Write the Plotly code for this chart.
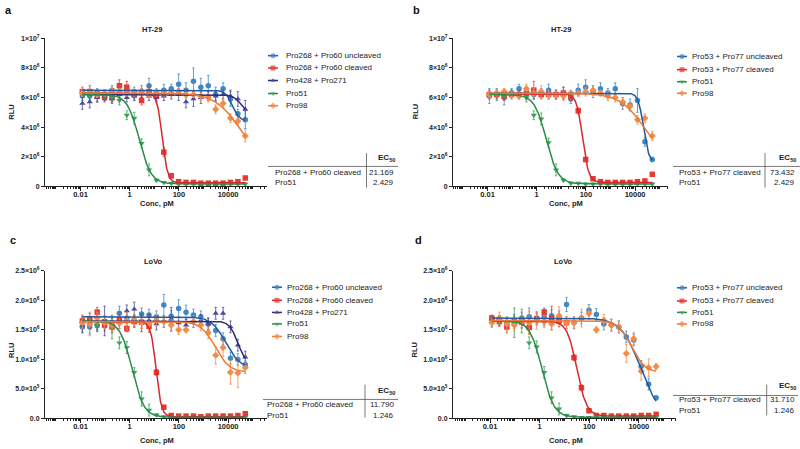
import numpy as np
import plotly.graph_objects as go

W, H = 800, 449
FONT = "Liberation Sans, Arial, Helvetica, sans-serif"

# ---------------- data ----------------
conc = [0.0119, 0.0238, 0.0477, 0.0954, 0.191, 0.381, 0.763, 1.53, 3.05, 6.10, 12.2, 24.4,
        48.8, 97.7, 195, 391, 781, 1563, 3125, 6250, 12500, 25000, 50000]

# Panel a  (HT-29, RLU x 1e6)
a_unc = [6.1, 6.1, 6.3, 6.2, 6.5, 6.3, 6.4, 6.4, 6.4, 6.8, 6.3, 6.5, 6.6, 6.9, 6.5, 7.1, 6.7, 6.8, 6.2, 6.6, 5.9, 4.9, 4.5]
a_unc_err = [0.3, 0.3, 0.3, 0.3, 0.3, 0.3, 0.3, 0.3, 0.4, 0.5, 0.3, 0.4, 0.3, 0.7, 0.5, 0.9, 0.6, 0.7, 0.5, 0.4, 0.5, 0.3, 0.6]
a_clv = [6.4, 6.4, 6.1, 6.0, 6.0, 6.8, 6.7, 6.2, 5.8, 6.4, 6.1, 2.3, 0.7, 0.3, 0.25, 0.25, 0.2, 0.2, 0.2, 0.2, 0.25, 0.3, 0.55]
a_clv_err = [0.3, 0.4, 0.4, 0.3, 0.3, 0.4, 0.4, 0.3, 0.3, 0.4, 0.3, 0.3, 0.15, 0.1, 0.05, 0.05, 0.05, 0.05, 0.05, 0.05, 0.05, 0.05, 0.1]
a_pur = [5.6, 5.7, 6.0, 6.1, 5.9, 6.2, 6.0, 6.1, 6.3, 6.1, 6.0, 6.1, 6.2, 6.2, 5.7, 5.9, 6.0, 6.1, 6.1, 6.2, 6.1, 5.9, 5.2]
a_pur_err = [0.4, 0.4, 0.3, 0.3, 0.3, 0.3, 0.3, 0.3, 0.3, 0.3, 0.3, 0.3, 0.3, 0.4, 0.4, 0.5, 0.4, 0.3, 0.3, 0.3, 0.4, 0.5, 0.6]
a_p51 = [6.2, 6.1, 6.3, 6.1, 6.0, 5.8, 4.8, 4.6, 2.9, 1.1, 0.4, 0.25, 0.2, 0.15, 0.15, 0.15, 0.15, 0.15, 0.15, 0.15, 0.15, 0.15, 0.15]
a_p51_err = [0.2, 0.2, 0.2, 0.2, 0.3, 0.3, 0.3, 0.4, 0.3, 0.4, 0.1, 0.05, 0.05, 0.05, 0.05, 0.05, 0.05, 0.05, 0.05, 0.05, 0.05, 0.05, 0.05]
a_p98 = [6.3, 6.4, 6.2, 6.3, 6.4, 6.4, 6.3, 6.3, 6.4, 6.2, 6.3, 6.3, 6.3, 6.4, 6.2, 6.2, 6.1, 6.0, 5.2, 5.6, 4.6, 4.4, 3.4]
a_p98_err = [0.2, 0.2, 0.2, 0.2, 0.2, 0.2, 0.2, 0.2, 0.2, 0.2, 0.2, 0.2, 0.2, 0.2, 0.2, 0.2, 0.3, 0.3, 0.3, 0.3, 0.3, 0.3, 0.4]
a_unc_fit = [6.5, 4.4, 15000, 3.0]
a_clv_fit = [6.3, 0.22, 21.169, 4.0]
a_pur_fit = [6.2, 4.8, 35000, 2.5]
a_p51_fit = [6.2, 0.15, 2.429, 1.8]
a_p98_fit = [6.3, 1.5, 30000, 0.85]

# Panel b  (HT-29, RLU x 1e6)
b_unc = [6.1, 6.2, 6.0, 6.3, 6.6, 6.2, 6.2, 6.3, 6.5, 6.2, 6.3, 5.9, 6.5, 6.7, 6.4, 6.6, 6.3, 6.6, 5.6, 5.5, 5.8, 3.0, 1.8]
b_unc_err = [0.5, 0.4, 0.5, 0.3, 0.3, 0.3, 0.3, 0.3, 0.4, 0.3, 0.4, 0.3, 0.4, 0.5, 0.4, 0.4, 0.3, 0.4, 0.4, 0.4, 0.8, 0.3, 0.15]
b_clv = [6.2, 6.2, 6.1, 6.2, 6.2, 6.3, 6.5, 6.2, 6.2, 6.2, 6.3, 6.1, 5.1, 1.8, 0.5, 0.3, 0.25, 0.25, 0.25, 0.25, 0.3, 0.35, 0.8]
b_clv_err = [0.3, 0.3, 0.3, 0.3, 0.3, 0.4, 0.6, 0.3, 0.3, 0.3, 0.4, 0.3, 0.2, 0.15, 0.1, 0.05, 0.05, 0.05, 0.05, 0.05, 0.05, 0.05, 0.1]
b_p51 = [6.2, 6.2, 6.1, 6.3, 6.2, 6.0, 4.8, 4.55, 2.95, 1.1, 0.4, 0.2, 0.2, 0.15, 0.15, 0.15, 0.15, 0.15, 0.15, 0.15, 0.15, 0.15, 0.15]
b_p51_err = [0.2, 0.2, 0.2, 0.2, 0.2, 0.3, 0.3, 0.4, 0.3, 0.4, 0.1, 0.05, 0.05, 0.05, 0.05, 0.05, 0.05, 0.05, 0.05, 0.05, 0.05, 0.05, 0.05]
b_p98 = [6.2, 6.3, 6.4, 6.2, 6.1, 6.6, 6.3, 6.4, 6.2, 6.2, 6.1, 6.3, 6.3, 6.4, 6.5, 6.3, 6.1, 6.0, 5.7, 5.4, 4.5, 4.6, 3.4]
b_p98_err = [0.2, 0.2, 0.2, 0.2, 0.2, 0.3, 0.3, 0.4, 0.3, 0.2, 0.3, 0.2, 0.2, 0.3, 0.3, 0.2, 0.3, 0.3, 0.3, 0.3, 0.3, 0.3, 0.3]
b_unc_fit = [6.3, 1.6, 22000, 4.0]
b_clv_fit = [6.25, 0.25, 73.432, 3.5]
b_p51_fit = [6.2, 0.15, 2.429, 1.8]
b_p98_fit = [6.3, 1.5, 25000, 0.85]

# Panel c  (LoVo, RLU x 1e6)
c_unc = [1.55, 1.55, 1.57, 1.62, 1.62, 1.78, 1.70, 1.66, 1.77, 1.75, 1.72, 1.92, 1.73, 1.86, 1.80, 1.75, 1.72, 1.60, 1.49, 1.35, 1.02, 1.00, 0.91]
c_unc_err = [0.1, 0.12, 0.1, 0.1, 0.1, 0.12, 0.1, 0.1, 0.1, 0.1, 0.1, 0.18, 0.1, 0.15, 0.12, 0.1, 0.1, 0.1, 0.1, 0.1, 0.1, 0.1, 0.06]
c_clv = [1.65, 1.68, 1.80, 1.58, 1.55, 1.67, 1.52, 1.64, 1.63, 1.56, 0.78, 0.19, 0.05, 0.04, 0.04, 0.04, 0.03, 0.04, 0.04, 0.04, 0.04, 0.05, 0.08]
c_clv_err = [0.1, 0.1, 0.08, 0.1, 0.1, 0.1, 0.05, 0.1, 0.1, 0.1, 0.05, 0.03, 0.02, 0.01, 0.01, 0.01, 0.01, 0.01, 0.01, 0.01, 0.01, 0.01, 0.02]
c_pur = [1.58, 1.62, 1.60, 1.65, 1.60, 1.62, 1.82, 1.85, 1.62, 1.66, 1.60, 1.64, 1.68, 1.62, 1.58, 1.64, 1.66, 1.60, 1.78, 1.78, 1.55, 1.24, 1.04]
c_pur_err = [0.12, 0.1, 0.1, 0.25, 0.1, 0.1, 0.1, 0.12, 0.15, 0.1, 0.1, 0.1, 0.2, 0.1, 0.1, 0.1, 0.1, 0.1, 0.1, 0.1, 0.1, 0.1, 0.1]
c_p51 = [1.62, 1.64, 1.58, 1.66, 1.55, 1.28, 1.20, 0.78, 0.33, 0.14, 0.06, 0.03, 0.02, 0.02, 0.02, 0.02, 0.02, 0.02, 0.02, 0.02, 0.02, 0.02, 0.02]
c_p51_err = [0.08, 0.08, 0.1, 0.08, 0.2, 0.1, 0.1, 0.08, 0.12, 0.1, 0.02, 0.01, 0.01, 0.01, 0.01, 0.01, 0.01, 0.01, 0.01, 0.01, 0.01, 0.01, 0.01]
c_p98 = [1.62, 1.60, 1.70, 1.62, 1.58, 1.62, 1.65, 1.66, 1.62, 1.60, 1.66, 1.64, 1.58, 1.50, 1.50, 1.64, 1.58, 1.45, 1.07, 1.20, 0.78, 0.77, 0.86]
c_p98_err = [0.1, 0.2, 0.1, 0.1, 0.1, 0.1, 0.15, 0.1, 0.1, 0.1, 0.1, 0.1, 0.1, 0.08, 0.05, 0.1, 0.1, 0.1, 0.15, 0.15, 0.2, 0.25, 0.1]
c_unc_fit = [1.72, 0.85, 8000, 1.5]
c_clv_fit = [1.64, 0.03, 11.79, 4.0]
c_pur_fit = [1.65, 0.9, 25000, 2.5]
c_p51_fit = [1.65, 0.02, 1.246, 1.8]
c_p98_fit = [1.64, 0.78, 3000, 1.5]

# Panel d  (LoVo, RLU x 1e6)
d_unc = [1.68, 1.66, 1.62, 1.66, 1.70, 1.72, 1.70, 1.72, 1.74, 1.72, 1.93, 1.62, 1.70, 1.83, 1.76, 1.60, 1.58, 1.55, 1.38, 1.33, 0.88, 0.58, 0.35]
d_unc_err = [0.06, 0.08, 0.1, 0.1, 0.1, 0.15, 0.1, 0.15, 0.1, 0.1, 0.12, 0.1, 0.1, 0.1, 0.1, 0.1, 0.1, 0.1, 0.1, 0.1, 0.1, 0.1, 0.03]
d_clv = [1.70, 1.64, 1.55, 1.63, 1.63, 1.54, 1.68, 1.80, 1.70, 1.65, 1.62, 1.03, 0.52, 0.13, 0.05, 0.05, 0.04, 0.04, 0.04, 0.04, 0.05, 0.05, 0.07]
d_clv_err = [0.05, 0.08, 0.1, 0.1, 0.1, 0.1, 0.1, 0.05, 0.2, 0.1, 0.1, 0.05, 0.05, 0.02, 0.01, 0.01, 0.01, 0.01, 0.01, 0.01, 0.01, 0.01, 0.02]
d_p51 = [1.64, 1.66, 1.60, 1.62, 1.65, 1.28, 1.21, 0.78, 0.35, 0.16, 0.05, 0.03, 0.02, 0.02, 0.02, 0.02, 0.02, 0.02, 0.02, 0.02, 0.02, 0.02, 0.02]
d_p51_err = [0.08, 0.08, 0.1, 0.25, 0.2, 0.1, 0.1, 0.1, 0.1, 0.1, 0.02, 0.01, 0.01, 0.01, 0.01, 0.01, 0.01, 0.01, 0.01, 0.01, 0.01, 0.01, 0.01]
d_p98 = [1.62, 1.70, 1.60, 1.58, 1.64, 1.62, 1.66, 1.64, 1.60, 1.74, 1.62, 1.62, 1.70, 1.78, 1.50, 1.66, 1.58, 1.55, 1.10, 1.35, 0.80, 0.86, 0.88]
d_p98_err = [0.08, 0.1, 0.1, 0.1, 0.1, 0.2, 0.15, 0.1, 0.1, 0.15, 0.1, 0.1, 0.15, 0.1, 0.05, 0.1, 0.1, 0.1, 0.15, 0.1, 0.15, 0.15, 0.05]
d_unc_fit = [1.70, 0.0, 12000, 1.1]
d_clv_fit = [1.65, 0.04, 31.71, 2.2]
d_p51_fit = [1.65, 0.02, 1.246, 1.8]
d_p98_fit = [1.66, 0.78, 5000, 1.6]

# labels
ac_names = ["Pro268 + Pro60 uncleaved", "Pro268 + Pro60 cleaved", "Pro428 + Pro271", "Pro51", "Pro98"]
bd_names = ["Pro53 + Pro77 uncleaved", "Pro53 + Pro77 cleaved", "Pro51", "Pro98"]
a_ec50_names = ["Pro268 + Pro60 cleaved", "Pro51"]
a_ec50_vals = ["21.169", "2.429"]
b_ec50_names = ["Pro53 + Pro77 cleaved", "Pro51"]
b_ec50_vals = ["73.432", "2.429"]
c_ec50_names = ["Pro268 + Pro60 cleaved", "Pro51"]
c_ec50_vals = ["11.790", "1.246"]
d_ec50_names = ["Pro53 + Pro77 cleaved", "Pro51"]
d_ec50_vals = ["31.710", "1.246"]

ht_tickvals = [0, 2, 4, 6, 8, 10]
ht_ticktext = ["0", "2×10<sup>6</sup>", "4×10<sup>6</sup>", "6×10<sup>6</sup>", "8×10<sup>6</sup>", "1×10<sup>7</sup>"]
lv_tickvals = [0, 0.5, 1.0, 1.5, 2.0, 2.5]
lv_ticktext = ["0.0", "5.0×10<sup>5</sup>", "1.0×10<sup>6</sup>", "1.5×10<sup>6</sup>", "2.0×10<sup>6</sup>", "2.5×10<sup>6</sup>"]
x_tickvals = [0.01, 1, 100, 10000]
x_ticktext = ["0.01", "1", "100", "10000"]

# ---------------- styles ----------------
STY = {
    "unc": dict(mc="#3f88c5", lc="#24589f", sym="circle"),
    "clv": dict(mc="#e63a33", lc="#d8262a", sym="square"),
    "pur": dict(mc="#4a4aa0", lc="#2d2d78", sym="triangle-up"),
    "p51": dict(mc="#3ba05b", lc="#2a8c48", sym="triangle-down"),
    "p98": dict(mc="#f48c48", lc="#ef7a35", sym="diamond"),
}

panels = [
    dict(letter="a", title="HT-29", left=45, right=267, x01=80.5, dec=24.6, top=35, bot=185,
         ymax=10, tv=ht_tickvals, tt=ht_ticktext,
         series=[("unc", a_unc, a_unc_err, a_unc_fit), ("clv", a_clv, a_clv_err, a_clv_fit),
                 ("pur", a_pur, a_pur_err, a_pur_fit), ("p51", a_p51, a_p51_err, a_p51_fit),
                 ("p98", a_p98, a_p98_err, a_p98_fit)],
         names=ac_names, letter_xy=(8, 6), title_xy=(152, 26), rlu_xy=(11.5, 110), conc_xy=(157, 203),
         leg_x=(268, 278, 284), leg_y=[52.5, 65, 77.7, 91, 103.3],
         hl=(268, 398, 165), vl=(366.5, 151.5, 186.5), hdr=(397, 156.5), rows=[171, 181.7],
         name_x=273, val_x=395.5, tnames=a_ec50_names, tvals=a_ec50_vals),
    dict(letter="b", title="HT-29", left=453, right=668, x01=487.5, dec=24.6, top=35, bot=185,
         ymax=10, tv=ht_tickvals, tt=ht_ticktext,
         series=[("unc", b_unc, b_unc_err, b_unc_fit), ("clv", b_clv, b_clv_err, b_clv_fit),
                 ("p51", b_p51, b_p51_err, b_p51_fit), ("p98", b_p98, b_p98_err, b_p98_fit)],
         names=bd_names, letter_xy=(416.5, 6), title_xy=(561, 26), rlu_xy=(415, 110), conc_xy=(566, 203),
         leg_x=(677, 687, 690), leg_y=[53.3, 66.7, 79, 90.7],
         hl=(673, 800, 165), vl=(765, 151.5, 186.5), hdr=(797.5, 156.5), rows=[171, 181.7],
         name_x=676.5, val_x=797, tnames=b_ec50_names, tvals=b_ec50_vals),
    dict(letter="c", title="LoVo", left=45, right=267, x01=80.5, dec=24.6, top=271, bot=421,
         ymax=2.5, tv=lv_tickvals, tt=lv_ticktext,
         series=[("unc", c_unc, c_unc_err, c_unc_fit), ("clv", c_clv, c_clv_err, c_clv_fit),
                 ("pur", c_pur, c_pur_err, c_pur_fit), ("p51", c_p51, c_p51_err, c_p51_fit),
                 ("p98", c_p98, c_p98_err, c_p98_fit)],
         names=ac_names, letter_xy=(13, 240), title_xy=(153, 262), rlu_xy=(11.5, 352), conc_xy=(157, 443),
         leg_x=(272, 282, 285), leg_y=[287.7, 301, 313.3, 325, 337.7],
         hl=(263, 398, 401.7), vl=(365, 386.7, 420), hdr=(397, 393), rows=[406.7, 417.7],
         name_x=265, val_x=395.5, tnames=c_ec50_names, tvals=c_ec50_vals),
    dict(letter="d", title="LoVo", left=453, right=676, x01=490, dec=24.8, top=271, bot=421,
         ymax=2.5, tv=lv_tickvals, tt=lv_ticktext,
         series=[("unc", d_unc, d_unc_err, d_unc_fit), ("clv", d_clv, d_clv_err, d_clv_fit),
                 ("p51", d_p51, d_p51_err, d_p51_fit), ("p98", d_p98, d_p98_err, d_p98_fit)],
         names=bd_names, letter_xy=(418, 240), title_xy=(563, 262), rlu_xy=(415, 352), conc_xy=(566, 443),
         leg_x=(677, 687, 690), leg_y=[288.3, 301.7, 313.3, 325],
         hl=(673, 798, 397.7), vl=(766.7, 386.7, 418), hdr=(797.5, 388.3), rows=[401.7, 413.3],
         name_x=677, val_x=797, tnames=d_ec50_names, tvals=d_ec50_vals),
]


def px(x):
    return x / W


def py(y):
    return 1 - y / H


def four_pl(xs, p):
    top, bottom, ec50, hill = p
    return bottom + (top - bottom) / (1 + (xs / ec50) ** hill)


fig = go.Figure()
annotations = []
shapes = []
layout_axes = {}

minor_vals = [m * 10.0 ** e for e in range(-4, 6) for m in range(1, 10)
              if not (m == 1 and e in (-2, 0, 2, 4))]

for i, P in enumerate(panels, start=1):
    xa = "x" if i == 1 else f"x{i}"
    ya = "y" if i == 1 else f"y{i}"
    xname = "xaxis" if i == 1 else f"xaxis{i}"
    yname = "yaxis" if i == 1 else f"yaxis{i}"
    xmin = -2 - (P["x01"] - P["left"]) / P["dec"]
    xmax = -2 + (P["right"] - P["x01"]) / P["dec"]
    layout_axes[xname] = dict(
        type="log", range=[xmin, xmax], domain=[px(P["left"]), px(P["right"])], anchor=ya,
        showgrid=False, zeroline=False, showline=True, linecolor="#222", linewidth=1,
        ticks="outside", ticklen=4, tickwidth=1, tickcolor="#222",
        tickmode="array", tickvals=x_tickvals, ticktext=x_ticktext, ticklabelstandoff=-3,
        tickfont=dict(family=FONT, size=7.5, color="#222", weight="bold"),
        minor=dict(tickmode="array", tickvals=minor_vals, ticks="outside", ticklen=2,
                   tickwidth=0.8, tickcolor="#222"),
        fixedrange=True,
    )
    layout_axes[yname] = dict(
        range=[0, P["ymax"]], domain=[py(P["bot"]), py(P["top"])], anchor=xa,
        showgrid=False, zeroline=False, showline=True, linecolor="#222", linewidth=1,
        ticks="outside", ticklen=3, tickwidth=1, tickcolor="#222",
        tickmode="array", tickvals=P["tv"], ticktext=P["tt"],
        tickfont=dict(family=FONT, size=7, color="#222", weight="bold"),
        fixedrange=True,
    )
    # data points
    for key, vals, errs, fit in P["series"]:
        s = STY[key]
        fig.add_trace(go.Scatter(
            x=conc, y=vals, xaxis=xa, yaxis=ya, mode="markers", showlegend=False,
            marker=dict(symbol=s["sym"], size=5.5, color=s["mc"], line=dict(width=0)),
            error_y=dict(type="data", array=errs, color=s["mc"], thickness=0.8, width=1.2),
            cliponaxis=False,
        ))
    # fitted curves
    for key, vals, errs, fit in P["series"]:
        s = STY[key]
        xs = np.logspace(np.log10(conc[0]), np.log10(conc[-1]), 300)
        fig.add_trace(go.Scatter(
            x=xs, y=four_pl(xs, fit), xaxis=xa, yaxis=ya, mode="lines", showlegend=False,
            line=dict(color=s["lc"], width=1.5), cliponaxis=False, hoverinfo="skip",
        ))

    # text
    lx, ly = P["letter_xy"]
    annotations.append(dict(x=px(lx), y=py(ly), xref="paper", yref="paper", text="<b>%s</b>" % P["letter"],
                            showarrow=False, xanchor="center", yanchor="middle",
                            font=dict(family=FONT, size=11, color="#111")))
    tx, ty = P["title_xy"]
    annotations.append(dict(x=px(tx), y=py(ty), xref="paper", yref="paper", text="<b>%s</b>" % P["title"],
                            showarrow=False, xanchor="center", yanchor="middle",
                            font=dict(family=FONT, size=7.5, color="#222")))
    rx, ry = P["rlu_xy"]
    annotations.append(dict(x=px(rx), y=py(ry), xref="paper", yref="paper", text="<b>RLU</b>",
                            showarrow=False, xanchor="center", yanchor="middle", textangle=-90,
                            font=dict(family=FONT, size=7.5, color="#222")))
    cx, cy = P["conc_xy"]
    annotations.append(dict(x=px(cx), y=py(cy), xref="paper", yref="paper", text="<b>Conc, pM</b>",
                            showarrow=False, xanchor="center", yanchor="middle",
                            font=dict(family=FONT, size=7.5, color="#222")))
    # legend (manual)
    x0, x1, xt = P["leg_x"]
    keys = [k for k, _, _, _ in P["series"]]
    for k, name, yy in zip(keys, P["names"], P["leg_y"]):
        s = STY[k]
        fig.add_trace(go.Scatter(
            x=[x0, (x0 + x1) / 2, x1], y=[yy, yy, yy], xaxis="x9", yaxis="y9", mode="lines+markers",
            showlegend=False, hoverinfo="skip",
            line=dict(color=s["lc"], width=1.5),
            marker=dict(symbol=s["sym"], size=[0, 5, 0], color=s["mc"], line=dict(width=0)),
        ))
        annotations.append(dict(x=px(xt), y=py(yy), xref="paper", yref="paper", text=name,
                                showarrow=False, xanchor="left", yanchor="middle",
                                font=dict(family=FONT, size=8, color="#222")))
    # EC50 table
    hx0, hx1, hy = P["hl"]
    shapes.append(dict(type="line", xref="paper", yref="paper", x0=px(hx0), x1=px(hx1), y0=py(hy), y1=py(hy),
                       line=dict(color="#555", width=0.8)))
    vx, vy0, vy1 = P["vl"]
    shapes.append(dict(type="line", xref="paper", yref="paper", x0=px(vx), x1=px(vx), y0=py(vy0), y1=py(vy1),
                       line=dict(color="#555", width=0.8)))
    hdx, hdy = P["hdr"]
    annotations.append(dict(x=px(hdx), y=py(hdy), xref="paper", yref="paper",
                            text="<b>EC<sub>50</sub></b>", showarrow=False, xanchor="right", yanchor="middle",
                            font=dict(family=FONT, size=8, color="#222")))
    for nm, vl, ry_ in zip(P["tnames"], P["tvals"], P["rows"]):
        annotations.append(dict(x=px(P["name_x"]), y=py(ry_), xref="paper", yref="paper", text=nm,
                                showarrow=False, xanchor="left", yanchor="middle",
                                font=dict(family=FONT, size=8, color="#222")))
        annotations.append(dict(x=px(P["val_x"]), y=py(ry_), xref="paper", yref="paper", text=vl,
                                showarrow=False, xanchor="right", yanchor="middle",
                                font=dict(family=FONT, size=8, color="#222")))

# overlay axes for legend glyphs (pixel coordinates)
layout_axes["xaxis9"] = dict(domain=[0, 1], range=[0, W], visible=False, anchor="y9", fixedrange=True)
layout_axes["yaxis9"] = dict(domain=[0, 1], range=[H, 0], visible=False, anchor="x9", fixedrange=True)

fig.update_layout(
    width=W, height=H, margin=dict(l=0, r=0, t=0, b=0),
    paper_bgcolor="white", plot_bgcolor="rgba(0,0,0,0)",
    showlegend=False, annotations=annotations, shapes=shapes,
    font=dict(family=FONT, color="#222"),
    **layout_axes,
)

fig.write_html("out.html", config={"displayModeBar": False},
               post_script="document.body.style.margin='0';document.body.style.overflow='hidden';")
